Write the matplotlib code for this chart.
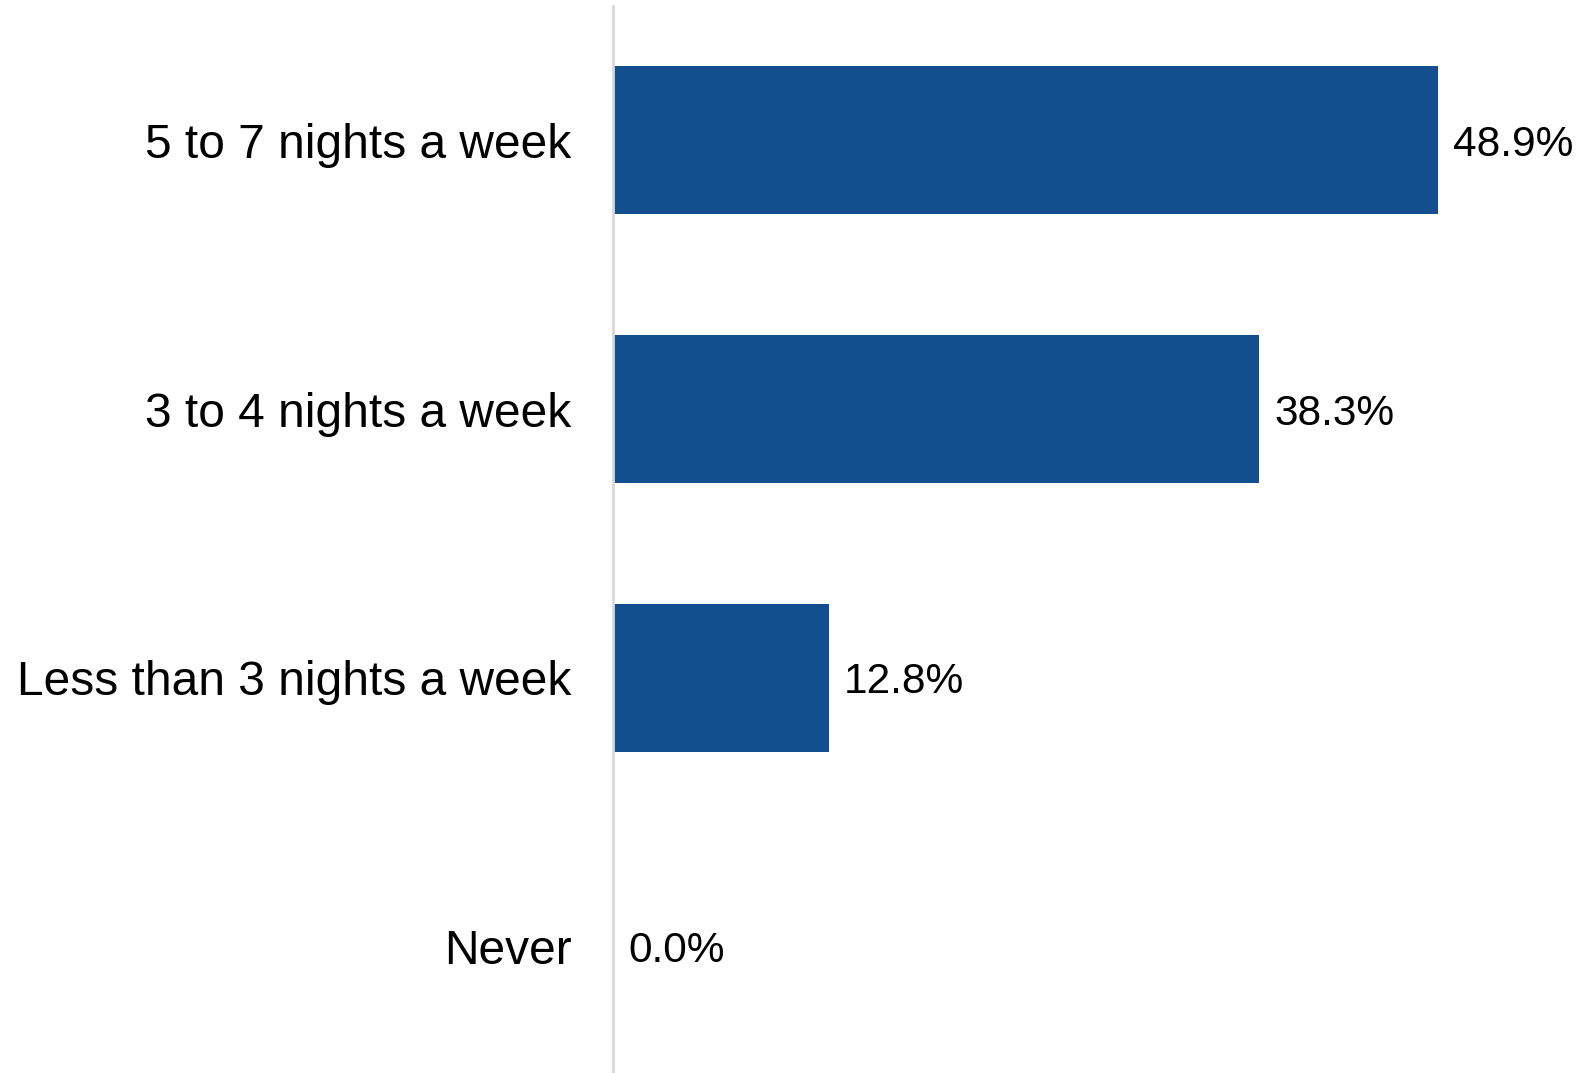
"""
Horizontal bar chart: how many nights a week (share of respondents).
"""

import matplotlib.pyplot as plt
from matplotlib.transforms import offset_copy

plt.rcParams['font.family'] = ['Liberation Sans', 'DejaVu Sans']

# Data
categories = ["5 to 7 nights a week", "3 to 4 nights a week",
              "Less than 3 nights a week", "Never"]
percentages = [48.9, 38.3, 12.8, 0.0]

BAR_COLOR = "#134f8f"
AXIS_COLOR = "#d9d9d9"

fig = plt.figure(figsize=(15.91, 10.73), dpi=100)
W, H = 1591, 1073

# Axes placed so that the vertical axis sits at x=613 px, top at y=6 px
ax = fig.add_axes([613 / W, 0, (W - 613) / W, (H - 6) / H])

y_pos = list(range(len(categories)))
ax.barh(y_pos, percentages, height=0.55, color=BAR_COLOR, zorder=2)

ax.set_xlim(0, 57.95)
ax.set_ylim(3.47, -0.50)

ax.set_yticks(y_pos)
ax.set_yticklabels(categories, fontsize=34.5)
ax.tick_params(axis='y', length=0, pad=30)
ax.set_xticks([])

for side in ["top", "right", "bottom"]:
    ax.spines[side].set_visible(False)
ax.spines["left"].set_color(AXIS_COLOR)
ax.spines["left"].set_linewidth(2)

# Value labels just past the end of each bar
for y, v in zip(y_pos, percentages):
    trans = offset_copy(ax.transData, fig=fig, x=15, y=0, units='dots')
    ax.text(v, y, f"{v:.1f}%", transform=trans, fontsize=30.5,
            va='center_baseline', ha='left', color='black')

fig.savefig("out.png", dpi=100)
